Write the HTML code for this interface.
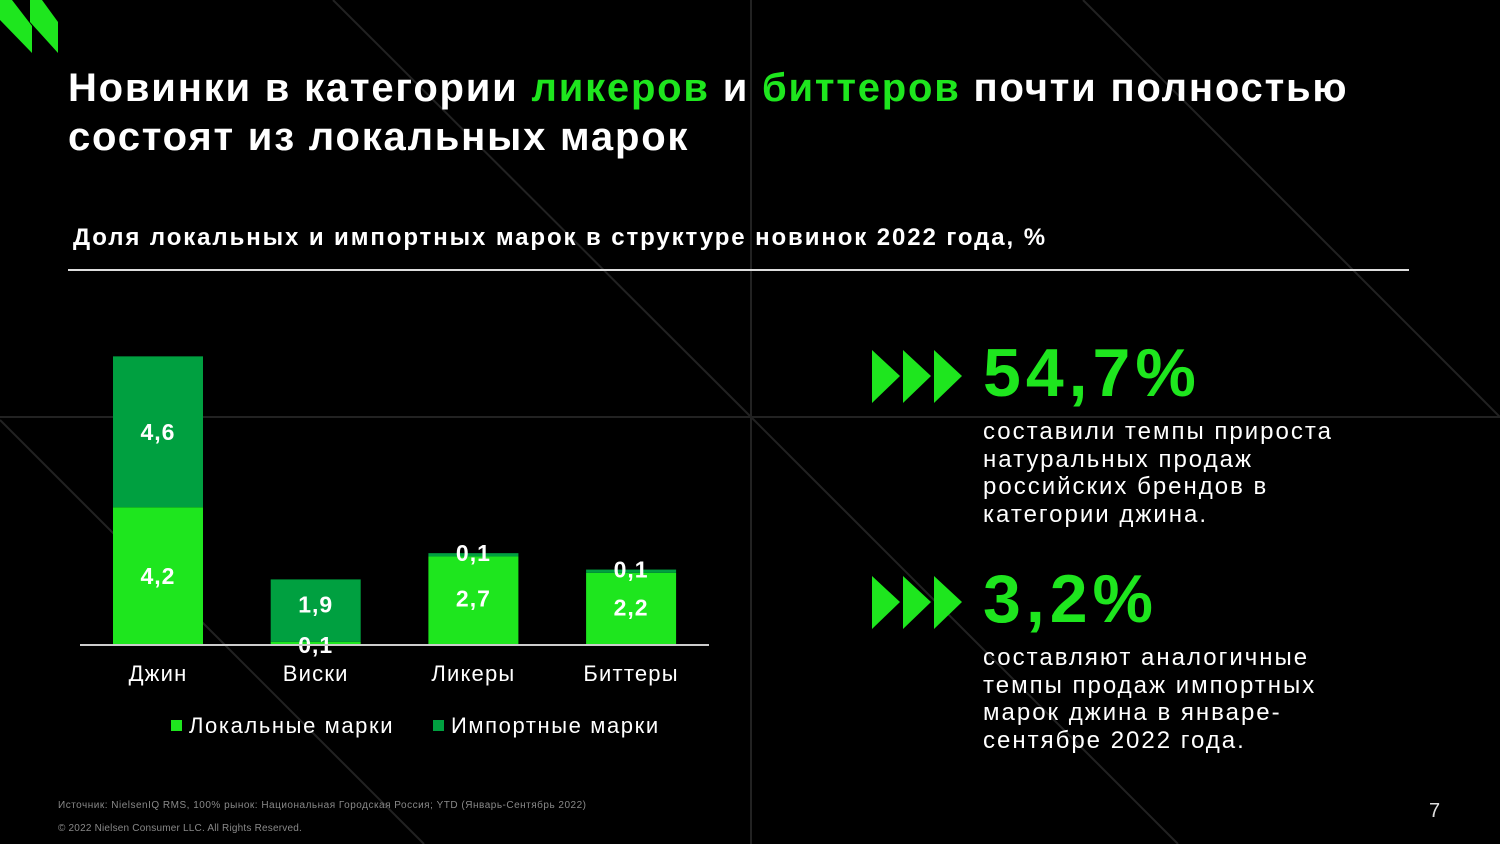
<!DOCTYPE html>
<html><head><meta charset="utf-8"><style>
body{margin:0;width:1500px;height:844px;background:#000;overflow:hidden;position:relative;font-family:"Liberation Sans","DejaVu Sans",sans-serif;color:#fff}
.abs{position:absolute}
h1{position:absolute;left:68px;top:64px;margin:0;font-size:40px;line-height:49px;font-weight:bold;letter-spacing:1.8px;white-space:nowrap}
.g{color:#1ee61e}
.big{font-size:68px;font-weight:bold;color:#1ee61e;letter-spacing:5px}
.txt{font-size:24px;line-height:27.5px;letter-spacing:2px;white-space:nowrap}
</style></head><body>
<svg class="abs" style="left:0;top:0" width="1500" height="844">
<g stroke="#222" stroke-width="2" fill="none">
<line x1="751" y1="0" x2="751" y2="844"/>
<line x1="0" y1="417" x2="1500" y2="417"/>
<line x1="333" y1="0" x2="751" y2="417"/>
<line x1="0" y1="420" x2="424" y2="844"/>
<line x1="1083" y1="0" x2="1500" y2="417"/>
<line x1="751" y1="417" x2="1178" y2="844"/>
</g>
<polygon points="0,0 12,0 32,26 32,53 0,20" fill="#1ee61e"/>
<polygon points="30,0 42,0 58,22 58,53 30,22" fill="#1ee61e"/>
</svg>
<h1>Новинки в категории <span class="g">ликеров</span> и <span class="g">биттеров</span> почти полностью<br>состоят из локальных марок</h1>
<div class="abs" style="left:73px;top:224px;font-size:24px;font-weight:bold;letter-spacing:1.9px;white-space:nowrap">Доля локальных и импортных марок в структуре новинок 2022 года, %</div>
<div class="abs" style="left:68px;top:269px;width:1341px;height:2px;background:#ddd"></div>

<svg id="chart" class="abs" style="left:0;top:0" width="750" height="760"></svg>

<svg class="abs" style="left:872px;top:350px" width="92" height="53"><g fill="#1ee61e"><polygon points="0,0 28,26 0,53"/><polygon points="31,0 59,26 31,53"/><polygon points="62,0 90,26 62,53"/></g></svg>
<div class="abs big" style="left:983px;top:334px">54,7%</div>
<div class="abs txt" style="left:983px;top:418px">составили темпы прироста<br>натуральных продаж<br>российских брендов в<br>категории джина.</div>
<svg class="abs" style="left:872px;top:576px" width="92" height="53"><g fill="#1ee61e"><polygon points="0,0 28,26 0,53"/><polygon points="31,0 59,26 31,53"/><polygon points="62,0 90,26 62,53"/></g></svg>
<div class="abs big" style="left:983px;top:560px">3,2%</div>
<div class="abs txt" style="left:983px;top:644px">составляют аналогичные<br>темпы продаж импортных<br>марок джина в январе-<br>сентябре 2022 года.</div>

<div class="abs" style="left:58px;top:800px;font-size:10px;color:#888;letter-spacing:0.5px">Источник: NielsenIQ RMS, 100% рынок: Национальная Городская Россия;  YTD (Январь-Сентябрь 2022)</div>
<div class="abs" style="left:58px;top:823px;font-size:10px;color:#888;letter-spacing:0.2px">© 2022 Nielsen Consumer LLC. All Rights Reserved.</div>
<div class="abs" style="left:1429px;top:800px;font-size:20px;color:#ddd">7</div>

<script>
const categories=["Джин","Виски","Ликеры","Биттеры"];
const localVals=[4.2,0.1,2.7,2.2];
const importVals=[4.6,1.9,0.1,0.1];
const localLabels=["4,2","0,1","2,7","2,2"];
const importLabels=["4,6","1,9","0,1","0,1"];
const NS="http://www.w3.org/2000/svg";
const svg=document.getElementById('chart');
const baseY=645,pxPerUnit=32.8,x0=158,step=157.7,bw=90;
const y=v=>baseY-v*pxPerUnit;
const xc=i=>x0+i*step;
function mk(t,a){const e=document.createElementNS(NS,t);for(const k in a)e.setAttribute(k,a[k]);svg.appendChild(e);return e;}
categories.forEach((c,i)=>{
  const r1=mk('rect',{x:xc(i)-bw/2,y:y(localVals[i]),width:bw,height:localVals[i]*pxPerUnit,fill:'#1ee61e'});
  
  
  const r2=mk('rect',{x:xc(i)-bw/2,y:y(localVals[i]+importVals[i]),width:bw,height:importVals[i]*pxPerUnit,fill:'#00a040'});
  
  
  let ly,iy;
  if(importVals[i]<0.5){iy=y(localVals[i]+importVals[i])+8;ly=y(localVals[i])+((baseY-y(localVals[i]))/2)+10+(i>0?-4:0);ly=Math.max(ly,iy+38);}
  else if(localVals[i]<0.5){iy=y(localVals[i]+importVals[i])+(importVals[i]*pxPerUnit)/2+2;ly=baseY+8;iy=Math.min(iy,ly-34);}
  else{iy=y(localVals[i]+importVals[i])+(importVals[i]*pxPerUnit)/2+8;ly=y(localVals[i])+(localVals[i]*pxPerUnit)/2+8;}
  const t1=mk('text',{x:xc(i),y:ly,'text-anchor':'middle','font-size':23,'font-weight':'bold',fill:'#fff','letter-spacing':1});t1.textContent=localLabels[i];
  
  
  const t2=mk('text',{x:xc(i),y:iy,'text-anchor':'middle','font-size':23,'font-weight':'bold',fill:'#fff','letter-spacing':1});t2.textContent=importLabels[i];
  
  
  const t3=mk('text',{x:xc(i),y:681,'text-anchor':'middle','font-size':22,fill:'#fff','letter-spacing':1.2});t3.textContent=c;
  
  
});
const ax=mk('line',{x1:80,x2:709,y1:baseY,y2:baseY,stroke:'#ccc','stroke-width':2});


const lg=[["Локальные марки",'#1ee61e',171],["Импортные марки",'#00a040',433]];
lg.forEach(l=>{
  const s=mk('rect',{x:l[2],y:720,width:11,height:11,fill:l[1]});
  
  
  const t=mk('text',{x:l[2]+18,y:733,'font-size':22,fill:'#fff','letter-spacing':1.6});t.textContent=l[0];
  
  
});
</script>
</body></html>
